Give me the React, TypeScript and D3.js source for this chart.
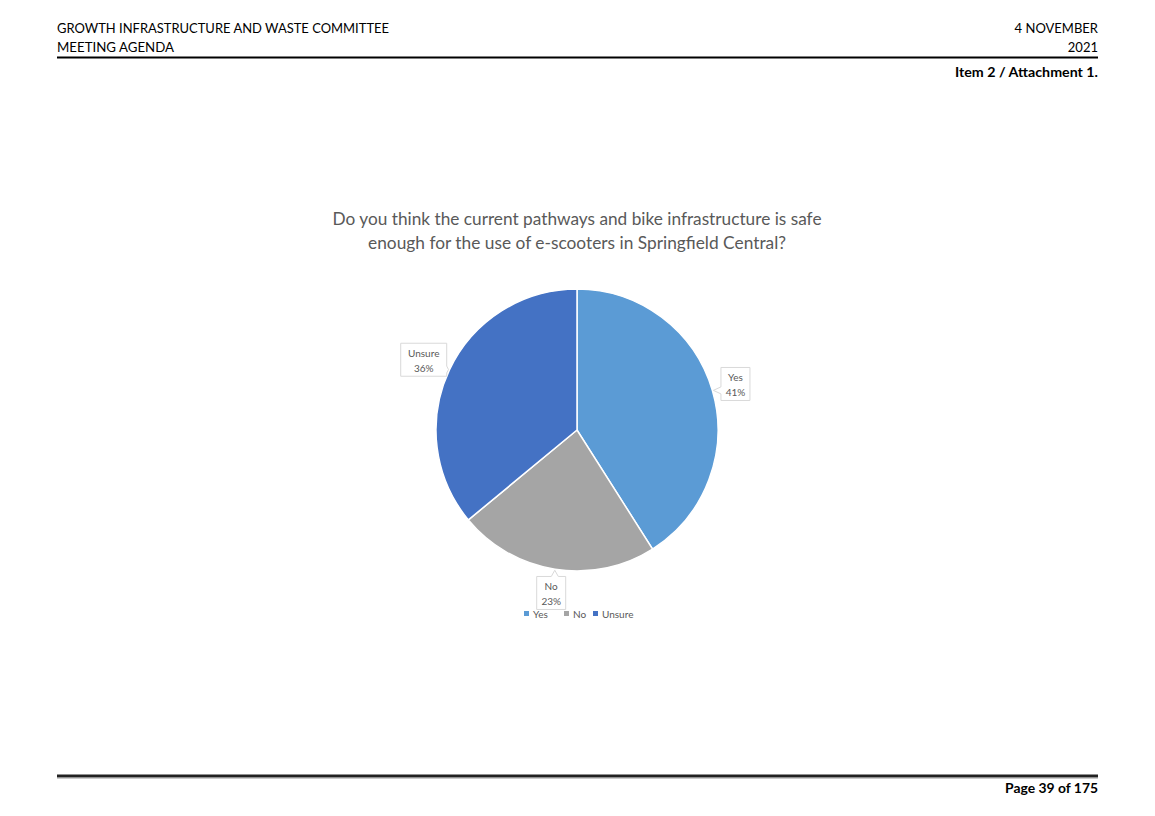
import React from "react";
import * as d3 from "d3";

const categories = ["Yes", "No", "Unsure"];
const values = [41, 23, 36];
const colors = ["#5B9BD5", "#A5A5A5", "#4472C4"];
const titleLines = [
  "Do you think the current pathways and bike infrastructure is safe",
  "enough for the use of e-scooters in Springfield Central?",
];
const titleWidths = [489, 418];

const W = 1155;
const H = 816;
const FONT = "Lato, 'Open Sans', 'Liberation Sans', sans-serif";

function calloutPath(cx: number, cy: number, w: number, h: number, tx: number, ty: number) {
  const x0 = cx - w / 2, x1 = cx + w / 2, y0 = cy - h / 2, y1 = cy + h / 2;
  const dx = tx - cx, dy = ty - cy;
  const half = 3.5;
  const pts: [number, number][] = [];
  const clamp = (v: number, a: number, b: number) => Math.max(a + half + 1, Math.min(b - half - 1, v));
  if (Math.abs(dx) / w > Math.abs(dy) / h) {
    const b = clamp(ty, y0, y1);
    if (dx > 0) {
      pts.push([x0, y0], [x1, y0], [x1, b - half], [tx, ty], [x1, b + half], [x1, y1], [x0, y1]);
    } else {
      pts.push([x0, y0], [x1, y0], [x1, y1], [x0, y1], [x0, b + half], [tx, ty], [x0, b - half]);
    }
  } else {
    const b = clamp(tx, x0, x1);
    if (dy > 0) {
      pts.push([x0, y0], [x1, y0], [x1, y1], [b + half, y1], [tx, ty], [b - half, y1], [x0, y1]);
    } else {
      pts.push([x0, y0], [b - half, y0], [tx, ty], [b + half, y0], [x1, y0], [x1, y1], [x0, y1]);
    }
  }
  return "M" + pts.map((p) => p.join(",")).join("L") + "Z";
}

export default function App() {
  const cx = 577, cy = 430, r = 141;
  const data = categories.map((c, i) => ({ c, v: values[i], col: colors[i] }));
  const pie = d3.pie<any>().value((d) => d.v).sort(null);
  const arcs = pie(data);
  const arc = d3.arc<any>().innerRadius(0).outerRadius(r);
  const labelR = 165;
  const tipR = r + 1;

  const legendX = [524, 564, 593];

  return (
    <svg width={W} height={H} style={{ position: "absolute", left: 0, top: 0, background: "#fff" }}>
      {/* Header */}
      <g fontFamily={FONT} fill="#000">
        <text x={57} y={33} fontSize={13} textLength={332} lengthAdjust="spacingAndGlyphs">GROWTH INFRASTRUCTURE AND WASTE COMMITTEE</text>
        <text x={57} y={52} fontSize={13} textLength={117} lengthAdjust="spacingAndGlyphs">MEETING AGENDA</text>
        <text x={1098} y={33} fontSize={13} textAnchor="end">4 NOVEMBER</text>
        <text x={1098} y={52} fontSize={13} textAnchor="end">2021</text>
        <text x={955} y={77} fontSize={13.5} fontWeight="bold" textLength={143} lengthAdjust="spacingAndGlyphs">Item 2 / Attachment 1.</text>
        <text x={1005} y={793} fontSize={13} fontWeight="bold" textLength={93} lengthAdjust="spacingAndGlyphs">Page 39 of 175</text>
      </g>
      <line x1={57} x2={1098} y1={57.5} y2={57.5} stroke="#000" strokeWidth={2} />
      <line x1={57} x2={1098} y1={776} y2={776} stroke="#222" strokeWidth={3} />
      <line x1={57} x2={1098} y1={778.5} y2={778.5} stroke="#ccc" strokeWidth={1} />

      {/* Title */}
      <g fontFamily={FONT} fill="#595959" fontSize={16.5}>
        {titleLines.map((t, i) => (
          <text key={i} x={577 - titleWidths[i] / 2} y={225 + i * 24} textLength={titleWidths[i]} lengthAdjust="spacingAndGlyphs">{t}</text>
        ))}
      </g>

      {/* Pie */}
      <g transform={`translate(${cx},${cy})`}>
        {arcs.map((a, i) => (
          <path key={i} d={arc(a) as string} fill={a.data.col} stroke="#fff" strokeWidth={1.5} />
        ))}
      </g>

      {/* Data labels */}
      <g fontFamily={FONT} fontSize={10} fill="#595959" textAnchor="middle">
        {arcs.map((a, i) => {
          const mid = (a.startAngle + a.endAngle) / 2;
          const lx = cx + labelR * Math.sin(mid) - (a.data.c.length > 3 ? 4 : 0);
          const ly = cy - labelR * Math.cos(mid);
          const tx = cx + tipR * Math.sin(mid);
          const ty = cy - tipR * Math.cos(mid);
          const w = a.data.c.length > 3 ? 46 : 29;
          const h = 33;
          return (
            <g key={i}>
              <path d={calloutPath(lx, ly, w, h, tx, ty)} fill="#fff" stroke="#D9D9D9" strokeWidth={1} />
              <text x={lx} y={ly - 3}>{a.data.c}</text>
              <text x={lx} y={ly + 12}>{`${a.data.v}%`}</text>
            </g>
          );
        })}
      </g>

      {/* Legend */}
      <g fontFamily={FONT} fontSize={10} fill="#595959">
        {data.map((d, i) => (
          <g key={i}>
            <rect x={legendX[i]} y={611} width={5} height={5} fill={d.col} />
            <text x={legendX[i] + 9} y={618}>{d.c}</text>
          </g>
        ))}
      </g>
    </svg>
  );
}
